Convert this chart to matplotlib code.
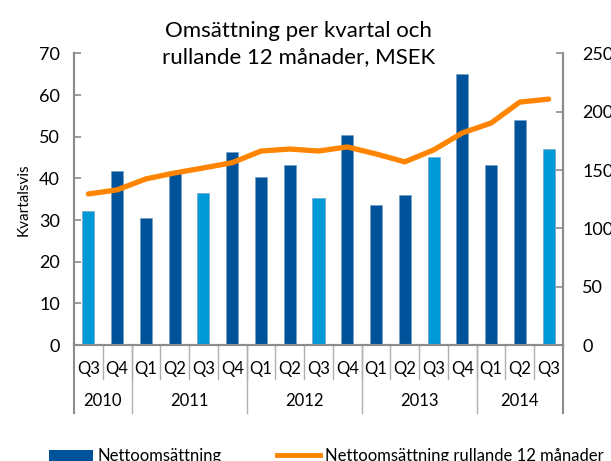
import matplotlib.pyplot as plt
from matplotlib.patches import Patch
from matplotlib.lines import Line2D

plt.rcParams['font.family'] = ['Lato', 'DejaVu Sans']

quarters = ["Q3", "Q4", "Q1", "Q2", "Q3", "Q4", "Q1", "Q2", "Q3", "Q4",
            "Q1", "Q2", "Q3", "Q4", "Q1", "Q2", "Q3"]
years = ["2010", "2011", "2012", "2013", "2014"]
year_counts = [2, 4, 4, 4, 3]
quarterly = [32.1, 41.8, 30.6, 41.8, 36.6, 46.3, 40.3, 43.2, 35.4, 50.3,
             33.7, 36.1, 45.1, 65.0, 43.2, 54.1, 47.0]
rolling = [129.5, 133, 142.4, 147.5, 151.8, 156.3, 166.3, 168, 166.3, 169.8,
           163.8, 157, 167.2, 181.8, 190.3, 208.3, 210.8]

dark = "#00529b"
light = "#0099d8"
orange = "#ff8400"
grey = "#8c8c8c"

fig = plt.figure(figsize=(6.11, 4.61), dpi=100)
ax = fig.add_axes([74 / 611, 1 - 345 / 461, (563 - 74) / 611, (345 - 53.4) / 461])
ax2 = ax.twinx()

x = list(range(len(quarters)))
colors = [light if q == "Q3" else dark for q in quarters]
ax.bar(x, quarterly, width=0.42, color=colors, edgecolor="#6f9cc4", linewidth=0.4, zorder=2)
ax2.plot(x, rolling, color=orange, lw=3.8, solid_capstyle="round", zorder=3)

ax.set_xlim(-0.5, len(quarters) - 0.5)
ax.set_ylim(0, 70)
ax2.set_ylim(0, 250)
ax.set_yticks(range(0, 71, 10))
ax2.set_yticks(range(0, 251, 50))

for a in (ax, ax2):
    for s in a.spines.values():
        s.set_color(grey)
        s.set_linewidth(1.5)
    a.spines["top"].set_visible(False)
    a.tick_params(axis="y", direction="in", length=5, width=1.2, color=grey,
                  labelsize=13, pad=10)
ax.tick_params(axis="x", bottom=False, labelbottom=False)
ax2.tick_params(axis="y", pad=14)
ax.set_ylabel("Kvartalsvis", fontsize=11, labelpad=6)

# two level category axis
tr = ax.get_xaxis_transform()
q_depth = -34 / 291.6
y_depth = -68 / 291.6
for i in range(1, len(quarters)):
    ax.plot([i - 0.5, i - 0.5], [0, q_depth], color="#b0b0b0", lw=1.0,
            transform=tr, clip_on=False)
for i, q in enumerate(quarters):
    ax.text(i, -24 / 291.6, q, transform=tr, ha="center", va="center", fontsize=12)
start = -0.5
for yr, n in zip(years, year_counts):
    ax.text(start + n / 2, -56 / 291.6, yr, transform=tr, ha="center",
            va="center", fontsize=12)
    ax.plot([start, start], [0, y_depth], color="#b0b0b0" if start > -0.5 else grey,
            lw=1.0 if start > -0.5 else 1.5, transform=tr, clip_on=False)
    start += n
ax.plot([start, start], [0, y_depth], color=grey, lw=1.5, transform=tr, clip_on=False)

fig.text(0.488, 0.905, "Omsättning per kvartal och\nrullande 12 månader, MSEK",
         ha="center", va="center", fontsize=16, linespacing=1.4)

handles = [Patch(facecolor=dark, edgecolor="none"),
           Line2D([0], [0], color=orange, lw=3.5)]
fig.legend(handles, ["Nettoomsättning", "Nettoomsättning rullande 12 månader"],
           loc="center left", bbox_to_anchor=(41 / 611, 0.011), ncol=2,
           frameon=False, fontsize=12, borderpad=0, handlelength=2.6,
           handleheight=0.65, handletextpad=0.3, columnspacing=3.3)

plt.savefig("out.png", dpi=100)
